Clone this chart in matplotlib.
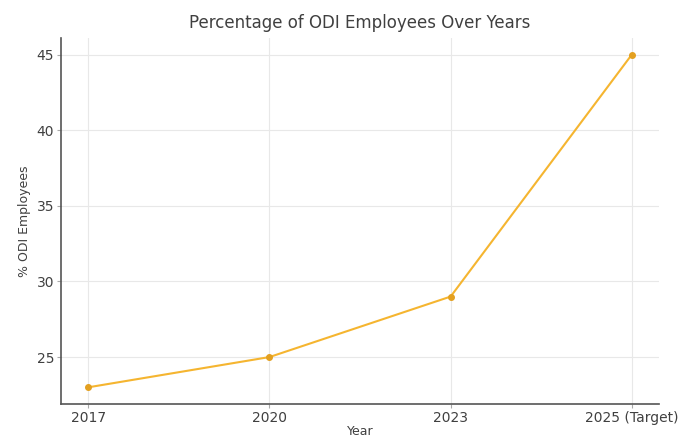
import matplotlib
matplotlib.use('Agg')
from matplotlib import pyplot as plt

years = ['2017', '2020', '2023', '2025 (Target)']
odi_pct = [23, 25, 29, 45]

plt.rcParams['font.family'] = 'DejaVu Sans'

fig = plt.figure(figsize=(6.78, 4.41), dpi=100)
ax = fig.add_axes([0.09, 0.084, 0.882, 0.83])

ax.plot(years, odi_pct, color='#f5b530', marker='o', markersize=4,
        markerfacecolor='#e3a020', markeredgecolor='#e3a020', linewidth=1.5)

ax.set_title('Percentage of ODI Employees Over Years', fontsize=12, color='#404040', pad=7)
ax.set_xlabel('Year', fontsize=9, color='#404040', labelpad=0)
ax.set_ylabel('% ODI Employees', fontsize=9, color='#404040')

ax.grid(True, color='#e8e8e8', linewidth=0.8)
ax.set_axisbelow(True)
for side in ['top', 'right']:
    ax.spines[side].set_visible(False)
for side in ['left', 'bottom']:
    ax.spines[side].set_color('#555555')
    ax.spines[side].set_linewidth(1.2)
ax.tick_params(colors='#404040', labelsize=10, length=3, color='#aaaaaa', pad=2)

fig.savefig('out.png', dpi=100)
